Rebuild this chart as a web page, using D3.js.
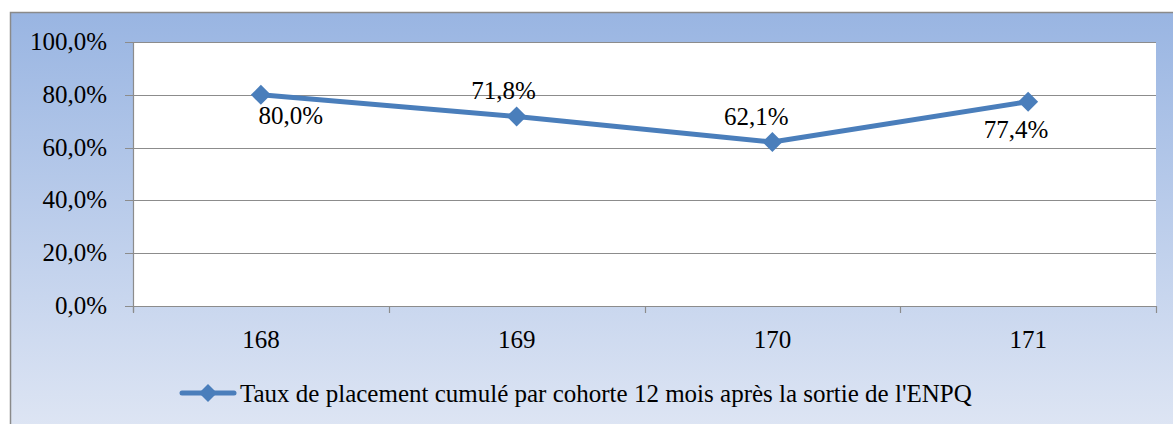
<!DOCTYPE html>
<html><head><meta charset="utf-8">
<script src="https://cdn.jsdelivr.net/npm/d3@7"></script>
</head><body style="margin:0">
<svg id="c" width="1173" height="424"></svg>
<script>
const categories = ["168","169","170","171"];
const values = [80.0, 71.8, 62.1, 77.4];
const labelText = ["80,0%","71,8%","62,1%","77,4%"];
const yTicks = [0,20,40,60,80,100];
const seriesName = "Taux de placement cumulé par cohorte 12 mois après la sortie de l'ENPQ";
// label layout offsets (pixels relative to the point)
const labelDx = [30, -13, -16, -12];
const labelDy = [29, -17, -17, 36];

const svg = d3.select("#c");
const W = 1173, H = 424;
const defs = svg.append("defs");
const g = defs.append("linearGradient").attr("id","bg").attr("x1",0).attr("y1",0).attr("x2",0).attr("y2",1);
g.append("stop").attr("offset","0%").attr("stop-color","#99b5e2");
g.append("stop").attr("offset","100%").attr("stop-color","#dfe6f4");

svg.append("rect").attr("x",10.5).attr("y",12.5).attr("width",W).attr("height",H)
  .attr("fill","url(#bg)").attr("stroke","#8a8a8a").attr("stroke-width",1.5);

const pl = 133, pr = 1156, pt = 42, pb = 306;
const x = d3.scaleBand().domain(categories).range([pl,pr]);
const y = d3.scaleLinear().domain([0,100]).range([pb,pt]);

svg.append("rect").attr("x",pl).attr("y",pt).attr("width",pr-pl).attr("height",pb-pt).attr("fill","#fff");

const fmtY = d => d3.format(".1f")(d).replace(".",",") + "%";
svg.append("g").selectAll("line").data(yTicks).join("line")
  .attr("x1",pl-8).attr("x2",pr).attr("y1",d=>Math.round(y(d))+0.5).attr("y2",d=>Math.round(y(d))+0.5)
  .attr("stroke","#8c8c8c").attr("stroke-width",1.2);
svg.append("line").attr("x1",pl+0.5).attr("x2",pl+0.5).attr("y1",pt).attr("y2",pb+6).attr("stroke","#8c8c8c").attr("stroke-width",1.2);
const bounds = categories.map(c=>x(c)).concat([pr]);
svg.append("g").selectAll("line").data(bounds).join("line")
  .attr("x1",d=>Math.round(d)+0.5).attr("x2",d=>Math.round(d)+0.5).attr("y1",pb).attr("y2",pb+7)
  .attr("stroke","#8c8c8c").attr("stroke-width",1.2);

const cxOf = i => x(categories[i])+x.bandwidth()/2;
const line = d3.line().x((d,i)=>cxOf(i)).y(d=>y(d));
svg.append("path").datum(values).attr("d",line).attr("fill","none")
  .attr("stroke","#4a7ebb").attr("stroke-width",5).attr("stroke-linejoin","round");
const diamond = s => `M0,${-s}L${s},0L0,${s}L${-s},0Z`;
svg.append("g").selectAll("path").data(values).join("path")
  .attr("transform",(d,i)=>`translate(${cxOf(i)},${y(d)})`)
  .attr("d",diamond(10)).attr("fill","#4a7ebb");

const ly = 393;
svg.append("line").attr("x1",182).attr("x2",234).attr("y1",ly).attr("y2",ly)
  .attr("stroke","#4a7ebb").attr("stroke-width",5).attr("stroke-linecap","round");
svg.append("path").attr("transform",`translate(208,${ly})`).attr("d",diamond(9)).attr("fill","#4a7ebb");

// text without text-anchor; alignment computed from measured width
function stext(tx, ty, anchor, txt){
  const t = svg.append("text").attr("x",tx).attr("y",ty)
    .attr("font-size",25).attr("font-family","'Liberation Serif'").text(txt);
  const w = t.node().getComputedTextLength();
  const k = anchor === "end" ? 1 : anchor === "middle" ? 0.5 : 0;
  t.attr("x", tx - k*w);
  return t;
}
yTicks.forEach(d=> stext(107, y(d)+8, "end", fmtY(d)));
categories.forEach(c=> stext(x(c)+x.bandwidth()/2, 348, "middle", c));
values.forEach((d,i)=> stext(cxOf(i)+labelDx[i], y(d)+labelDy[i], "middle", labelText[i]));
stext(240, 402, "start", seriesName);
</script>
</body></html>
